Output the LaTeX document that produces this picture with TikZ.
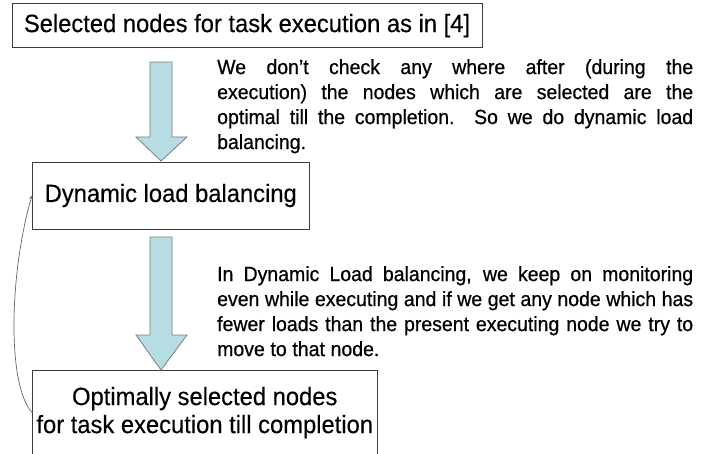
\documentclass[tikz,border=0pt]{standalone}
\usepackage{fontspec}
\setmainfont{Liberation Sans}
\newfontfamily\boxfont{Liberation Sans}[FakeStretch=0.95, FakeBold=0.3]
\newfontfamily\notefont{Liberation Sans}[FakeStretch=0.95, FakeBold=0.6]
\newcommand\notespacing{\spaceskip=.278em plus .5em minus .08em\relax}
\definecolor{arrowfill}{RGB}{183,221,228}
\definecolor{arrowline}{RGB}{125,125,125}
\definecolor{boxline}{RGB}{60,60,60}
\begin{document}
\begin{tikzpicture}[x=1pt, y=-1pt,
  box/.style={draw=boxline, line width=0.9pt, inner sep=0pt, font=\boxfont\fontsize{25pt}{28pt}\selectfont},
  note/.style={text width=476pt, align=justify, inner sep=0pt, anchor=north west,
    font=\notefont\fontsize{20.5pt}{25pt}\selectfont, execute at begin node=\notespacing},
  bigarrow/.style={fill=arrowfill, draw=arrowline, line width=0.8pt, line join=miter}]
  \path[use as bounding box, clip] (0,0) rectangle (704,454);

  % boxes
  \node[box, minimum width=470pt, minimum height=43.3pt] (sel) at (247,25.6) {Selected nodes for task execution as in [4]};
  \node[box, minimum width=276.5pt, minimum height=67pt] (dyn) at (170.75,195.5) {Dynamic load balancing};
  \node[box, anchor=north, minimum width=344.5pt, align=center, inner ysep=16.5pt] (opt) at (204.75,370) {Optimally selected nodes\\for task execution till completion};

  % notes
  \node[note] (why) at (217,59) {We don’t check any where after (during the\linebreak execution) the nodes which are selected are the\linebreak optimal till the completion.\ \ So we do dynamic load\linebreak balancing.};
  \node[note] (how) at (217,266) {In Dynamic Load balancing, we keep on monitoring\linebreak even while executing and if we get any node which has\linebreak fewer loads than the present executing node we try to\linebreak move to that node.};

  % down arrows
  \foreach \top/\neck/\tip in {62/137/161, 237/335/370}
    \draw[bigarrow] (150,\top) -- (172,\top) -- (172,\neck) -- (187,\neck) -- (161,\tip) -- (136,\neck) -- (150,\neck) -- cycle;

  % back to dynamic load balancing
  \coordinate (loopstart) at (32.5,413);
  \draw[-stealth, draw=arrowline!80!black, line width=0.7pt] (loopstart) .. controls (6,385) and (10,270) .. (dyn.west);
\end{tikzpicture}
\end{document}
